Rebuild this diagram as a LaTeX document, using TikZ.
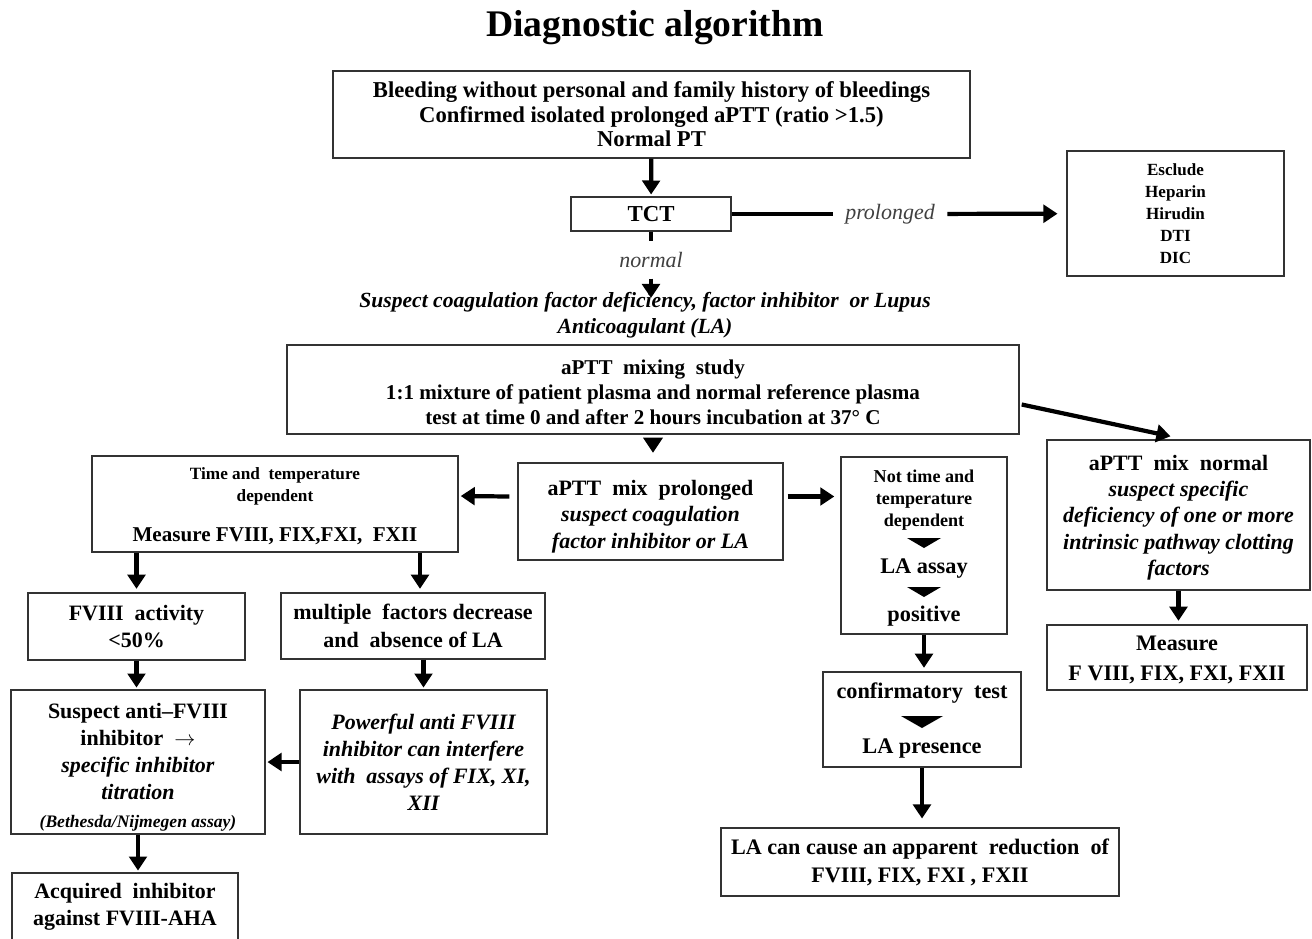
\documentclass[tikz,border=0pt]{standalone}
\usepackage{fontspec}
\setmainfont{Liberation Serif}
\usetikzlibrary{arrows.meta,calc}
\newcommand{\fsz}[2]{\fontsize{#1}{#2}\selectfont}
\tikzset{
  box/.style={draw=black!80, line width=0.8pt, align=center, inner sep=1pt, font=\bfseries\fsz{12.5}{15}},
  boxsize/.style 2 args={minimum width=#1*0.02cm, minimum height=#2*0.02cm},
  arr/.style={line width=2.4pt, -{Triangle[width=10pt,length=8pt]}},
  thick line/.style={line width=2.4pt},
  cond/.style={font=\itshape\fsz{12.5}{15}, text=black!75, inner xsep=7pt},
  wedge/.style={fill=black},
}
\begin{document}
\begin{tikzpicture}[x=0.02cm, y=-0.02cm]
    \useasboundingbox (0,0) rectangle (1312,938);

    % title
    \node[font=\bfseries\fsz{21.4}{24}] (title) at (655,28) {Diagnostic algorithm};

    % first part: screening
    \node[box, boxsize={637}{87}, font=\bfseries\fsz{12.9}{13.9}] (top) at (651.5,114.5)
        {Bleeding without personal and family history of bleedings\\
         Confirmed isolated prolonged aPTT (ratio >1.5)\\
         Normal PT};
    \node[box, boxsize={160}{34}, font=\bfseries\fsz{13}{15}] (tct) at (651,214) {TCT};
    \node[box, boxsize={217}{125}, font=\bfseries\fsz{9.7}{12.6}] (excl) at (1175.5,213.5)
        {Esclude\\ Heparin\\ Hirudin\\ DTI\\ DIC};
    \node[cond] (prol) at (890,214) {prolonged};
    \node[cond, inner ysep=6pt] (norm) at (651,260) {normal};
    \coordinate (normtip) at (651,298);
    \node[align=center, font=\bfseries\itshape\fsz{12.3}{14.7}] (suspect) at (645,315)
        {Suspect coagulation factor deficiency, factor inhibitor~ or Lupus\\
         Anticoagulant (LA)};

    % the mixing study
    \node[box, boxsize={732}{89}, font=\bfseries\fsz{12}{14.2}] (mix) at (653,389.5)
        {\rule{0pt}{12pt}aPTT~ mixing~ study\\
         1:1 mixture of patient plasma and normal reference plasma\\
         test at time 0 and after 2 hours incubation at 37° C};
    \node[box, boxsize={265}{97}] (mixpro) at (650.5,511.5)
        {\rule{0pt}{14.5pt}aPTT~ mix~ prolonged\\
         \textit{suspect coagulation}\\
         \textit{factor inhibitor or LA}};
    \node[box, boxsize={263}{150}] (mixnorm) at (1178.5,515)
        {\rule{0pt}{11.5pt}aPTT~ mix~ normal\\
         \textit{suspect specific}\\
         \textit{deficiency of one or more}\\
         \textit{intrinsic pathway clotting}\\
         \textit{factors}};
    \node[box, boxsize={260}{65}, font=\bfseries\fsz{12.6}{17}] (measr) at (1177,657.5)
        {\rule{0pt}{11.5pt}Measure\\ F VIII, FIX, FXI, FXII};

    % left branch: time and temperature dependent
    \node[box, boxsize={366}{96}, font=\bfseries\fsz{9.8}{12.5}] (timedep) at (275,504)
        {\rule{0pt}{9pt}Time and~ temperature\\ dependent\\[10pt]
         \fsz{12}{14}Measure FVIII, FIX,FXI,~ FXII};
    \node[box, boxsize={217}{67}, font=\bfseries\fsz{12.5}{15.9}] (fviii) at (136.5,626.5)
        {FVIII~ activity\\ <50\%};
    \node[box, boxsize={264}{66}, font=\bfseries\fsz{12.5}{15.9}] (multi) at (413,626)
        {multiple~ factors decrease\\ and~ absence of LA};
    \node[box, boxsize={254}{144}, font=\bfseries\fsz{12.5}{15.3}] (susp) at (138,762)
        {\rule{0pt}{15pt}Suspect anti–FVIII\\ inhibitor~ {\fsz{12.5}{12}$\rightarrow$}\\
         \textit{specific inhibitor}\\ \textit{titration}\\[1pt]
         {\fsz{10}{12}\textit{(Bethesda/Nijmegen assay)}}};
    \node[box, boxsize={247}{144}, font=\bfseries\itshape\fsz{12.5}{15.3}] (powerful) at (423.5,762)
        {Powerful anti FVIII\\ inhibitor can interfere\\ with~ assays of FIX, XI,\\ XII};
    \node[box, boxsize={226}{76}, font=\bfseries\fsz{12.5}{15.3}] (acq) at (125,911)
        {Acquired~ inhibitor\\ against FVIII-AHA\rule[-8pt]{0pt}{8pt}};

    % right branch: not time and temperature dependent
    \node[box, boxsize={166}{177}] (notdep) at (924,545.5) {};
    \node[align=center, font=\bfseries\fsz{10.3}{12.5}] (notdeptxt) at (924,500.5)
        {Not time and\\ temperature\\ dependent};
    \fill (907,538) -- (941,538) -- (924,548) -- cycle;
    \node[font=\bfseries\fsz{12.7}{15}] (laassay) at (924,568.5) {LA assay};
    \fill (907,587) -- (941,587) -- (924,597) -- cycle;
    \node[font=\bfseries\fsz{12.7}{15}] (positive) at (924,616.5) {positive};

    \node[box, boxsize={198}{95}] (confirm) at (922,719.5) {};
    \node[font=\bfseries\fsz{12.7}{15}] (conftxt) at (922,693.5) {confirmatory~ test};
    \fill (901,716) -- (943,716) -- (922,728) -- cycle;
    \node[font=\bfseries\fsz{12.7}{15}] (lapres) at (922,748.5) {LA presence};
    \node[box, boxsize={398}{68}, font=\bfseries\fsz{12.6}{16}] (lacause) at (920,862)
        {LA can cause an apparent~ reduction~ of\\ FVIII, FIX, FXI , FXII};

    % draw the arrows
    \draw[arr, shorten >=1pt] (top) -- (tct);
    \draw[thick line] (tct) -- (prol);
    \draw[arr, shorten >=5pt] (prol) -- (excl);
    \draw[thick line] (tct) -- (norm);
    \draw[arr] (norm) -- (normtip);
    \fill (mix.south) ++(-10,3) -- ++(20,0) -- ++(-10,15) -- cycle;
    \draw[arr] ($(mix.east)+(2,15)$) -- ($(mixnorm.north)+(-8,-3)$);
    \draw[arr] ($(mixpro.west)+(-8,-15)$) -- ($(timedep.east)+(2,-8)$);
    \draw[arr] ($(mixpro.east)+(4,-15)$) -- ($(notdep.west |- mixpro.east)+(-6,-15)$);
    \draw[arr, shorten >=2pt] (timedep.south -| fviii.north) -- (fviii.north);
    \draw[arr, shorten >=2pt] ($(timedep.south -| multi.north)+(7,0)$) -- ($(multi.north)+(7,0)$);
    \draw[arr, shorten >=1pt] (fviii.south) -- (fviii.south |- susp.north);
    \draw[arr, shorten >=1pt] (powerful.north |- multi.south) -- (powerful.north);
    \draw[arr, shorten >=1pt] (powerful.west) -- (susp.east);
    \draw[arr, shorten >=1pt] (susp.south) -- (susp.south |- acq.north);
    \draw[arr, shorten >=2pt] (notdep.south) -- (notdep.south |- confirm.north);
    \draw[arr, shorten >=5pt] (confirm.south) -- (confirm.south |- lacause.north);
    \draw[arr, shorten >=2pt] (mixnorm.south) -- (mixnorm.south |- measr.north);
\end{tikzpicture}
\end{document}
